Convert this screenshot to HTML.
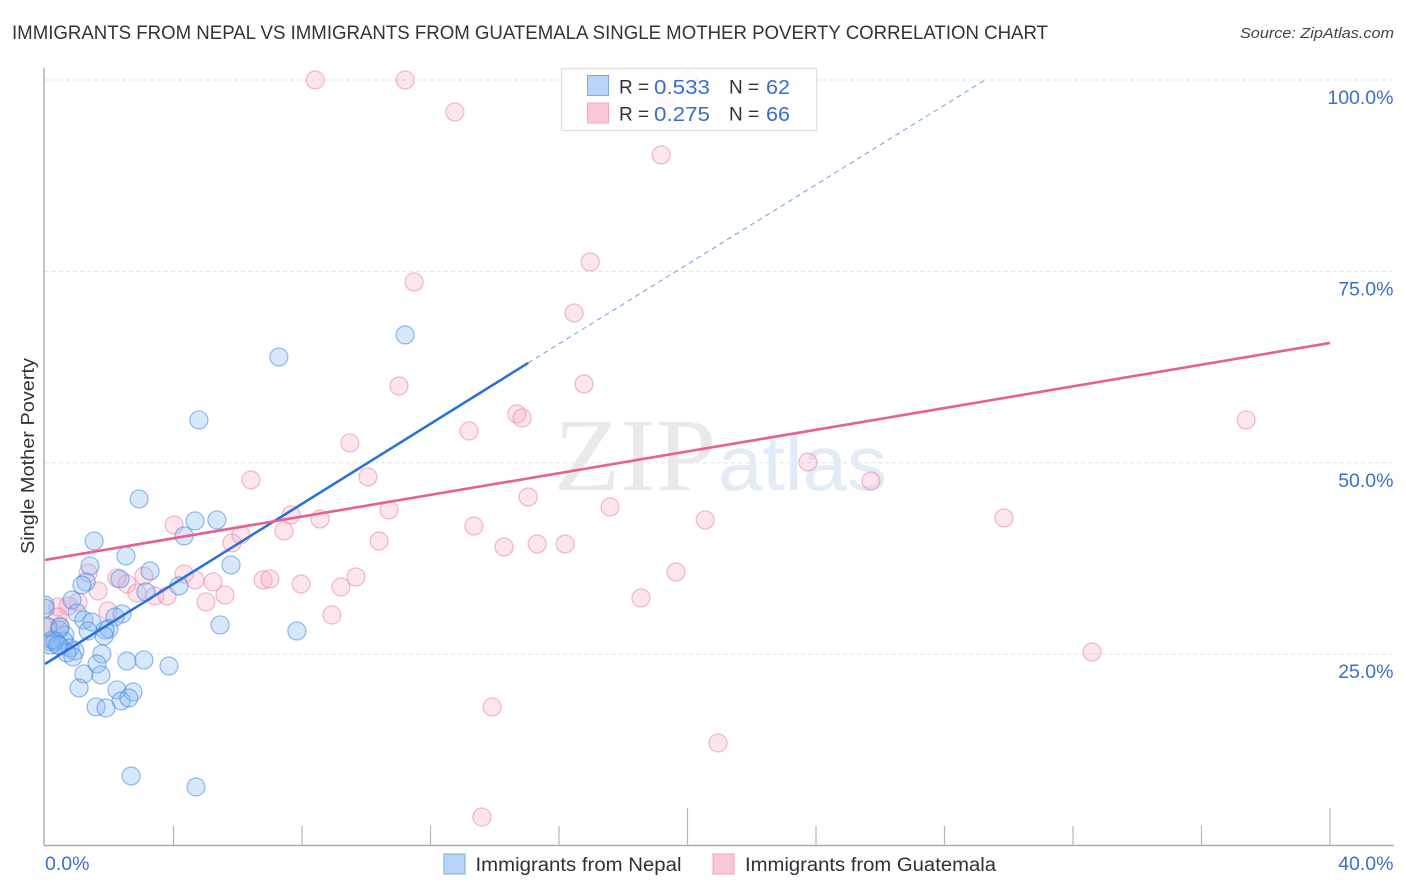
<!DOCTYPE html>
<html lang="en">
<head>
<meta charset="utf-8">
<title>Immigrants from Nepal vs Immigrants from Guatemala Single Mother Poverty Correlation Chart</title>
<style>
html,body{margin:0;padding:0;background:#fff;width:1406px;height:892px;overflow:hidden}
svg{display:block;font-family:"Liberation Sans",sans-serif}
</style>
</head>
<body>
<svg id="chart" width="1406" height="892" viewBox="0 0 1406 892" xmlns="http://www.w3.org/2000/svg">
  <defs><clipPath id="plot-clip"><rect x="44.7" y="60" width="1350" height="786"/></clipPath></defs>
  <text x="12" y="39" font-size="19" fill="#333" textLength="1036" lengthAdjust="spacingAndGlyphs">IMMIGRANTS FROM NEPAL VS IMMIGRANTS FROM GUATEMALA SINGLE MOTHER POVERTY CORRELATION CHART</text>
  <text x="1394" y="38" font-size="15" font-style="italic" fill="#444" text-anchor="end" textLength="154" lengthAdjust="spacingAndGlyphs">Source: ZipAtlas.com</text>
  <g id="grid"></g>
  <g>
    <text x="554" y="490" font-family="'Liberation Serif',serif" font-size="104" fill="#e9e9e9" textLength="162" lengthAdjust="spacingAndGlyphs">ZIP</text>
    <text x="718" y="490" font-size="78" fill="#e2ecf9" textLength="169" lengthAdjust="spacingAndGlyphs">atlas</text>
  </g>
  <g clip-path="url(#plot-clip)">
    <g id="points-guatemala"></g>
    <g id="points-nepal"></g>
  </g>
  <g id="trends"></g>
  <g id="axes"></g>
  <text transform="translate(34,456) rotate(-90)" font-size="18" fill="#333" text-anchor="middle" textLength="196" lengthAdjust="spacingAndGlyphs">Single Mother Poverty</text>

  <g>
    <rect x="561.5" y="68.5" width="255" height="62" fill="#fff" fill-opacity="0.82" stroke="#dedede" stroke-width="1.2"/>
    <rect x="587.5" y="75.5" width="21" height="20" fill="#b8d4f8" stroke="#7fa9e0" stroke-width="1"/>
    <rect x="587.5" y="103" width="21" height="20" fill="#fcc7d8" stroke="#f0a4bd" stroke-width="1"/>
    <text x="619" y="93.5" font-size="19" fill="#333">R =</text>
    <text x="654" y="94" font-size="20.5" fill="#3a6fcb" textLength="56" lengthAdjust="spacingAndGlyphs">0.533</text>
    <text x="729" y="93.5" font-size="19" fill="#333">N =</text>
    <text x="766" y="94" font-size="20.5" fill="#3a6fcb" textLength="24" lengthAdjust="spacingAndGlyphs">62</text>
    <text x="619" y="120.5" font-size="19" fill="#333">R =</text>
    <text x="654" y="121" font-size="20.5" fill="#3a6fcb" textLength="56" lengthAdjust="spacingAndGlyphs">0.275</text>
    <text x="729" y="120.5" font-size="19" fill="#333">N =</text>
    <text x="766" y="121" font-size="20.5" fill="#3a6fcb" textLength="24" lengthAdjust="spacingAndGlyphs">66</text>
  </g>

  <g>
    <g>
      <rect x="444" y="854" width="21" height="20" fill="#b8d4f8" stroke="#7fa9e0" stroke-width="1"/>
      <text x="475.5" y="871" font-size="19" fill="#2f2f3a" textLength="206" lengthAdjust="spacingAndGlyphs">Immigrants from Nepal</text>
    </g>
    <g>
      <rect x="713" y="854" width="21" height="20" fill="#fcc7d8" stroke="#f0a4bd" stroke-width="1"/>
      <text x="745" y="871" font-size="19" fill="#2f2f3a" textLength="251" lengthAdjust="spacingAndGlyphs">Immigrants from Guatemala</text>
    </g>
  </g>
</svg>
<script>
const nepalX = [7.28,11.21,4.79,2.93,4.67,5.35,4.33,1.53,2.52,1.40,5.79,3.27,2.33,1.28,1.15,4.17,3.14,0.84,0.00,0.00,1.00,2.40,2.18,1.21,1.46,5.45,7.84,1.99,1.87,1.34,0.44,1.84,0.62,0.16,0.59,0.16,0.31,0.47,0.78,0.93,0.68,0.87,1.77,1.62,2.55,3.08,3.86,1.21,1.74,1.06,2.24,2.74,2.37,2.61,1.59,1.90,2.68,4.70,0.22,0.40,0.09,0.47];
const nepalY = [63.82,66.70,55.59,45.27,42.40,42.53,40.44,39.78,37.82,36.52,36.65,35.86,34.82,34.43,34.03,33.90,33.12,32.07,31.42,31.00,30.38,30.25,29.85,29.46,29.20,28.81,28.02,28.29,28.16,28.02,28.16,27.37,27.50,26.60,26.72,26.20,26.72,26.06,25.80,25.41,25.15,24.63,25.02,23.71,24.10,24.24,23.45,22.41,22.28,20.58,20.32,20.05,18.88,19.27,18.10,17.96,9.08,7.64,26.85,26.20,28.54,28.54];
const guatemalaX = [8.41,11.21,12.76,19.18,16.97,11.49,16.47,16.78,11.02,14.69,14.85,37.39,13.20,9.49,23.75,6.41,10.05,25.71,15.04,17.59,10.71,7.66,8.56,4.02,20.55,29.85,13.35,7.44,10.40,5.82,6.10,14.29,15.32,16.19,19.64,1.34,4.33,3.08,2.24,2.55,4.67,6.79,7.00,7.97,9.68,9.21,5.23,1.65,2.86,3.42,3.80,5.60,5.01,18.55,1.96,1.03,0.40,8.93,0.72,0.40,32.59,13.92,20.95,13.60,20.02,19.33,0.06,0.47];
const guatemalaY = [100,100,95.83,90.21,76.23,73.62,69.57,60.29,60.03,56.38,55.85,55.59,54.15,52.59,50.10,47.75,48.14,47.62,45.53,44.22,43.83,43.18,42.66,41.87,42.53,42.79,41.74,41.09,39.78,39.52,40.57,39.00,39.39,39.39,35.73,35.60,35.47,35.21,34.95,34.16,34.69,34.69,34.82,34.16,35.08,33.77,34.43,33.25,32.99,32.60,32.60,32.73,31.81,32.34,30.64,31.81,31.16,30.11,31.29,29.85,25.28,18.10,13.39,3.72,100,97.66,28.55,28.68];
const nepalTrendX = [0,15.04];
const nepalTrendY = [23.71,63.04];
const nepalDashX = [15.04,29.26];
const nepalDashY = [63.04,100];
const guatemalaTrendX = [0,40];
const guatemalaTrendY = [37.30,65.65];
const yTickValues = [25,50,75,100];
const yTickLabels = ["25.0%","50.0%","75.0%","100.0%"];
const xTickValues = [0,4,8,12,16,20,24,28,32,36,40];
const xMajorTicks = [20,40];
const xEndValues = [0,40];
const xEndLabels = ["0.0%","40.0%"];

const NS = 'http://www.w3.org/2000/svg';
const sx = v => 45 + v * (1285 / 40);
const sy = v => 845.5 - v * (765.5 / 100);
function mk(tag, attrs, parent) {
  const el = document.createElementNS(NS, tag);
  for (const k in attrs) el.setAttribute(k, attrs[k]);
  parent.appendChild(el);
  return el;
}
const grid = document.getElementById('grid');
const axes = document.getElementById('axes');
const trends = document.getElementById('trends');

yTickValues.forEach((v, i) => {
  const line = mk('line', {x1: 45, x2: 1394, y1: sy(v), y2: sy(v), stroke: '#e2e2e2', 'stroke-width': 1, 'stroke-dasharray': '4 3'}, grid);
  
  
  const t = mk('text', {x: 1393.5, y: sy(v) + 24, 'font-size': 19.5, fill: '#3a6fcb', 'text-anchor': 'end'}, axes);
  
  
  t.textContent = yTickLabels[i];
});

const yAxis = mk('line', {x1: 44, x2: 44, y1: 68, y2: 845.5, stroke: '#aaa', 'stroke-width': 1.4}, axes);


const xAxis = mk('line', {x1: 44, x2: 1394, y1: 845.5, y2: 845.5, stroke: '#aaa', 'stroke-width': 1.4}, axes);



xTickValues.forEach(v => {
  if (v === 0) return;
  const top = xMajorTicks.includes(v) ? 808 : 826;
  const tick = mk('line', {x1: sx(v), x2: sx(v), y1: top, y2: 845.5, stroke: '#b5b5b5', 'stroke-width': 1.2}, axes);
  
  
});
xEndValues.forEach((v, i) => {
  const anchorEnd = i === xEndValues.length - 1;
  const t = mk('text', {x: anchorEnd ? 1393.5 : sx(v), y: 870, 'font-size': 19.5, fill: '#3a6fcb', 'text-anchor': anchorEnd ? 'end' : 'start'}, axes);
  
  
  t.textContent = xEndLabels[i];
});

const gG = document.getElementById('points-guatemala');
guatemalaX.forEach((v, i) => {
  const c = mk('circle', {cx: sx(v), cy: sy(guatemalaY[i]), r: 9, fill: '#f9a8c3', 'fill-opacity': 0.3, stroke: '#e88aa8', 'stroke-opacity': 0.6, 'stroke-width': 1.2}, gG);
  
  
});
const gN = document.getElementById('points-nepal');
nepalX.forEach((v, i) => {
  const c = mk('circle', {cx: sx(v), cy: sy(nepalY[i]), r: 9, fill: '#8ab8f2', 'fill-opacity': 0.33, stroke: '#3f84de', 'stroke-opacity': 0.55, 'stroke-width': 1.2}, gN);
  
  
});

const nDash = mk('line', {x1: sx(nepalDashX[0]), y1: sy(nepalDashY[0]), x2: sx(nepalDashX[1]), y2: sy(nepalDashY[1]), stroke: '#6f9fdc', 'stroke-width': 1, 'stroke-dasharray': '5 4'}, trends);


const nLine = mk('line', {x1: sx(nepalTrendX[0]), y1: sy(nepalTrendY[0]), x2: sx(nepalTrendX[1]), y2: sy(nepalTrendY[1]), stroke: '#2a72d8', 'stroke-width': 2.6}, trends);


const gLine = mk('line', {x1: sx(guatemalaTrendX[0]), y1: sy(guatemalaTrendY[0]), x2: sx(guatemalaTrendX[1]), y2: sy(guatemalaTrendY[1]), stroke: '#e8608f', 'stroke-width': 2.6}, trends);


</script>
</body>
</html>
